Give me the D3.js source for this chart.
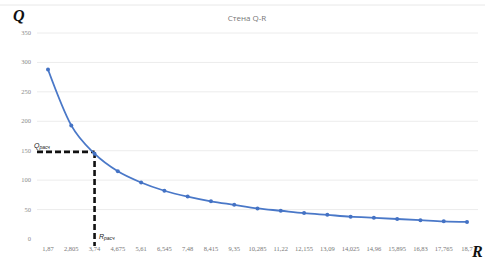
<!DOCTYPE html>
<html><head><meta charset="utf-8">
<script src="https://cdn.jsdelivr.net/npm/d3@7"></script>
<style>body{margin:0;background:#fff}svg{display:block}</style>
</head><body>
<script>
const categories = ["1,87","2,805","3,74","4,675","5,61","6,545","7,48","8,415","9,35","10,285","11,22","12,155","13,09","14,025","14,96","15,895","16,83","17,765","18,7"];
const qValues = [288,193,145,115,96,82,72,64,58,52,48,44,41,38,36,34,32,30,29];
const yTicks = [0,50,100,150,200,250,300,350];
const designIndex = 2;   // R_расч = 3,74
const qDesign = 148;

const W = 485, H = 263;
const svg = d3.select("body").append("svg").attr("width", W).attr("height", H);

const x = d3.scalePoint().domain(categories).range([48, 467]);
const y = d3.scaleLinear().domain([0, 350]).range([239, 33]);

svg.append("line").attr("x1",0).attr("x2",W).attr("y1",5).attr("y2",5)
  .attr("stroke","#e8e8e8").attr("stroke-width",1);

svg.append("g").selectAll("line").data(yTicks.filter(d=>d>0)).join("line")
  .attr("x1", 37).attr("x2", 478)
  .attr("y1", d=>y(d)).attr("y2", d=>y(d))
  .attr("stroke", "#ececec").attr("stroke-width", 1);

svg.append("g").selectAll("text").data(yTicks).join("text")
  .attr("x", 31).attr("y", d=>y(d)+2)
  .attr("text-anchor","end")
  .attr("font-family","Liberation Serif, serif").attr("font-size",6.5)
  .attr("fill","#8a8a8a").text(d=>d);

svg.append("g").selectAll("text").data(categories).join("text")
  .attr("x", d=>x(d)).attr("y", 251)
  .attr("text-anchor","middle")
  .attr("font-family","Liberation Serif, serif").attr("font-size",6.5)
  .attr("fill","#777").text(d=>d);

const xd = x(categories[designIndex]);
svg.append("line").attr("x1",37).attr("x2",xd).attr("y1",y(qDesign)).attr("y2",y(qDesign))
  .attr("stroke","#111").attr("stroke-width",2.6).attr("stroke-dasharray","6,3");
svg.append("line").attr("x1",xd).attr("x2",xd).attr("y1",y(qDesign)).attr("y2",246)
  .attr("stroke","#111").attr("stroke-width",2.6).attr("stroke-dasharray","6,3");

const line = d3.line().x((d,i)=>x(categories[i])).y(d=>y(d)).curve(d3.curveMonotoneX);
svg.append("path").datum(qValues).attr("d", line)
  .attr("fill","none").attr("stroke","#4a78c8").attr("stroke-width",1.8);
svg.append("g").selectAll("circle").data(qValues).join("circle")
  .attr("cx",(d,i)=>x(categories[i])).attr("cy",d=>y(d)).attr("r",2)
  .attr("fill","#4472c4");

svg.append("text").attr("x",247).attr("y",21).attr("text-anchor","middle")
  .attr("font-family","Open Sans, sans-serif").attr("font-size",8)
  .attr("fill","#777").text("Стена Q-R");

svg.append("text").attr("x",13).attr("y",21)
  .attr("font-family","Liberation Serif, serif").attr("font-style","italic").attr("font-weight","bold")
  .attr("font-size",16).attr("fill","#111").text("Q");
svg.append("text").attr("x",472).attr("y",257)
  .attr("font-family","Liberation Serif, serif").attr("font-style","italic").attr("font-weight","bold")
  .attr("font-size",16).attr("fill","#111").text("R");

const ql = svg.append("text").attr("x",34).attr("y",148)
  .attr("font-family","Liberation Sans, sans-serif").attr("font-style","italic")
  .attr("font-size",7).attr("fill","#222");
ql.append("tspan").text("Q");
ql.append("tspan").attr("font-size",5).attr("dy",1).text("расч");
const rl = svg.append("text").attr("x",99).attr("y",239)
  .attr("font-family","Liberation Sans, sans-serif").attr("font-style","italic")
  .attr("font-size",7).attr("fill","#222");
rl.append("tspan").text("R");
rl.append("tspan").attr("font-size",5).attr("dy",1).text("расч");
</script>
</body></html>
